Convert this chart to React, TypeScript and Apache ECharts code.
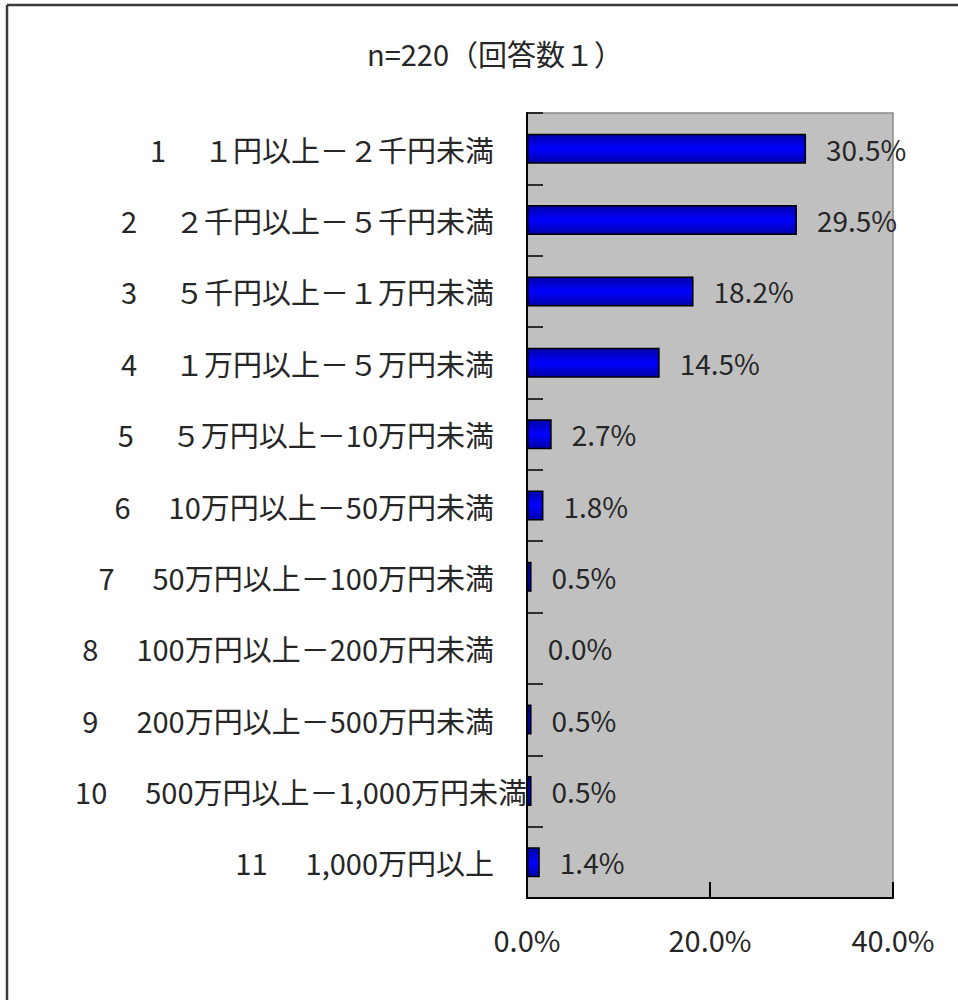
import React, { useEffect, useRef } from "react";
import * as echarts from "echarts";

const titleText = "n=220（回答数１）";
const categoryNumbers = ["1", "2", "3", "4", "5", "6", "7", "8", "9", "10", "11"];
const categoryNames = [
  "１円以上－２千円未満",
  "２千円以上－５千円未満",
  "５千円以上－１万円未満",
  "１万円以上－５万円未満",
  "５万円以上－10万円未満",
  "10万円以上－50万円未満",
  "50万円以上－100万円未満",
  "100万円以上－200万円未満",
  "200万円以上－500万円未満",
  "500万円以上－1,000万円未満",
  "1,000万円以上",
];
const percentValues = [30.5, 29.5, 18.2, 14.5, 2.7, 1.8, 0.5, 0.0, 0.5, 0.5, 1.4];
const xTicks = [0, 20, 40];

const FONT = "'Noto Sans CJK JP', 'Noto Sans', sans-serif";
const TEXT_COLOR = "#262626";

export default function App() {
  const ref = useRef<HTMLDivElement>(null);

  useEffect(() => {
    if (!ref.current) return;
    const chart = echarts.init(ref.current, undefined, { renderer: "svg" });
    const categories = categoryNumbers.map((n, i) => `${n}|${categoryNames[i]}`);

    chart.setOption({
      animation: false,
      backgroundColor: "#ffffff",
      textStyle: { fontFamily: FONT, color: TEXT_COLOR },
      title: {
        text: titleText,
        left: 490,
        textAlign: "center",
        top: 33,
        textStyle: { fontFamily: FONT, fontSize: 29, fontWeight: "normal", color: TEXT_COLOR },
      },
      graphic: [
        { type: "line", shape: { x1: 7, y1: 5, x2: 958, y2: 5 }, style: { stroke: "#3a3a3a", lineWidth: 2.5 } },
        { type: "line", shape: { x1: 7, y1: 5, x2: 7, y2: 1000 }, style: { stroke: "#3a3a3a", lineWidth: 2.5 } },
      ],
      grid: {
        left: 527,
        top: 113,
        right: 65,
        bottom: 102,
        show: true,
        backgroundColor: "#c0c0c0",
        borderColor: "#8a8a8a",
        borderWidth: 1.5,
      },
      xAxis: {
        type: "value",
        min: xTicks[0],
        max: xTicks[xTicks.length - 1],
        interval: xTicks[1] - xTicks[0],
        axisLine: { show: true, lineStyle: { color: "#000", width: 2 } },
        axisTick: { show: true, inside: true, length: 16, lineStyle: { color: "#000", width: 2 } },
        splitLine: { show: false },
        axisLabel: {
          margin: 26,
          fontSize: 29,
          fontFamily: FONT,
          color: TEXT_COLOR,
          formatter: (v: number) => v.toFixed(1) + "%",
        },
      },
      yAxis: {
        type: "category",
        inverse: true,
        data: categories,
        axisLine: { show: true, lineStyle: { color: "#000", width: 2 } },
        axisTick: { show: true, inside: true, length: 16, lineStyle: { color: "#000", width: 1.5 } },
        axisLabel: {
          margin: 0,
          formatter: (v: string) => {
            const [num, name] = v.split("|");
            const wide = num === "10";
            return `{n|${num}}{${wide ? "tw" : "t"}|${name}}`;
          },
          rich: {
            n: { fontSize: 29, fontFamily: FONT, color: TEXT_COLOR, padding: [0, 38, 0, 0] },
            t: { fontSize: 29, fontFamily: FONT, color: TEXT_COLOR, padding: [0, 33, 0, 0] },
            tw: { fontSize: 29, fontFamily: FONT, color: TEXT_COLOR, padding: [0, 0, 0, 0] },
          },
        },
      },
      series: [
        {
          type: "bar",
          data: percentValues,
          barWidth: 30,
          itemStyle: {
            color: new echarts.graphic.LinearGradient(0, 0, 0, 1, [
              { offset: 0, color: "#0000a8" },
              { offset: 0.5, color: "#0000ff" },
              { offset: 1, color: "#0000a8" },
            ]),
            borderColor: "#000",
            borderWidth: 1.5,
          },
          label: {
            show: true,
            position: "right",
            distance: 20,
            fontSize: 28,
            fontFamily: FONT,
            color: TEXT_COLOR,
            formatter: (p: any) => Number(p.value).toFixed(1) + "%",
          },
        },
      ],
    });

    return () => chart.dispose();
  }, []);

  return (
    <div
      ref={ref}
      style={{ position: "absolute", left: 0, top: 0, width: 958, height: 1000 }}
    />
  );
}
